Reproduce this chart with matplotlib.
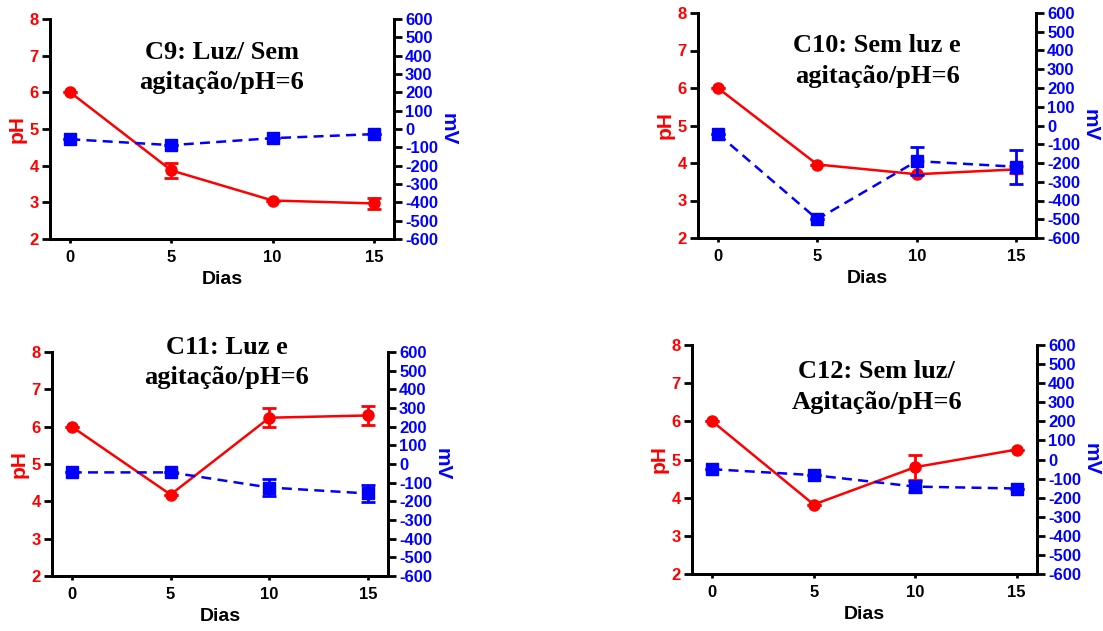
import numpy as np
import matplotlib
matplotlib.use('Agg')
import matplotlib.pyplot as plt

plt.rcParams['axes.unicode_minus'] = False

# dados
dias = [0, 5, 10, 15]

titulos = ['C9: Luz/ Sem\nagitação/pH=6',
           'C10: Sem luz e\nagitação/pH=6',
           'C11: Luz e\nagitação/pH=6',
           'C12: Sem luz/\nAgitação/pH=6']

ph_c9 = [6.0, 3.87, 3.05, 2.97]
ph_c9_err = [0.0, 0.2, 0.0, 0.16]
mv_c9 = [-56, -88, -50, -28]
mv_c9_err = [0, 0, 0, 0]

ph_c10 = [6.0, 3.96, 3.70, 3.83]
ph_c10_err = [0.0, 0.0, 0.0, 0.1]
mv_c10 = [-45, -500, -190, -220]
mv_c10_err = [0, 0, 75, 90]

ph_c11 = [6.0, 4.18, 6.24, 6.3]
ph_c11_err = [0.0, 0.0, 0.25, 0.25]
mv_c11 = [-45, -45, -126, -158]
mv_c11_err = [0, 0, 43, 47]

ph_c12 = [6.0, 3.82, 4.8, 5.26]
ph_c12_err = [0.0, 0.0, 0.33, 0.0]
mv_c12 = [-51, -82, -142, -152]
mv_c12_err = [0, 0, 30, 0]

ph_todos = [ph_c9, ph_c10, ph_c11, ph_c12]
ph_err_todos = [ph_c9_err, ph_c10_err, ph_c11_err, ph_c12_err]
mv_todos = [mv_c9, mv_c10, mv_c11, mv_c12]
mv_err_todos = [mv_c9_err, mv_c10_err, mv_c11_err, mv_c12_err]

# posicoes dos eixos (pixels da figura 1103x631)
W, H = 1103, 631
caixas = [(50, 394, 19, 239), (698, 1036, 13, 238),
          (52, 388, 352, 576), (692, 1037, 345, 574)]
titulo_pos = [(0.5, 0.78), (0.53, 0.787), (0.52, 0.953), (0.536, 0.817)]

vermelho = '#ff0000'
azul = '#0000ff'
fonte = 'Liberation Sans'

fig = plt.figure(figsize=(11.03, 6.31), dpi=100)

for i in range(4):
    l, r, t, b = caixas[i]
    ax = fig.add_axes([l / W, (H - b) / H, (r - l) / W, (b - t) / H])
    ax2 = ax.twinx()

    ax.errorbar(dias, ph_todos[i], yerr=ph_err_todos[i], color=vermelho,
                marker='o', markersize=8, lw=1.8, capsize=5, capthick=2,
                elinewidth=2)
    ax2.errorbar(dias, mv_todos[i], yerr=mv_err_todos[i], color=azul,
                 marker='s', markersize=8, lw=1.8, ls=(0, (4, 2.5)),
                 capsize=5, capthick=2, elinewidth=2)

    ax.set_xlim(-1, 16)
    ax.set_ylim(2, 8)
    ax2.set_ylim(-600, 600)
    ax.set_xticks([0, 5, 10, 15])
    ax.set_yticks(np.arange(2, 9, 1))
    ax2.set_yticks(np.arange(-600, 601, 100))

    for a in (ax, ax2):
        a.spines['top'].set_visible(False)
        for s in ('left', 'right', 'bottom'):
            a.spines[s].set_linewidth(2)

    ax.tick_params(axis='y', labelcolor=vermelho, color='black', width=2,
                   length=6, labelsize=12, pad=2)
    ax.tick_params(axis='x', width=2, length=3, labelsize=12, pad=5)
    ax2.tick_params(axis='y', labelcolor=azul, color='black', width=2,
                    length=6, labelsize=12, pad=2)

    for lab in ax.get_xticklabels() + ax.get_yticklabels() + ax2.get_yticklabels():
        lab.set_fontfamily(fonte)
        lab.set_fontweight('bold')

    ax.set_xlabel('Dias', fontsize=14, fontweight='bold', family=fonte,
                  labelpad=4)
    ax.set_ylabel('pH', fontsize=15, fontweight='bold', family=fonte,
                  color=vermelho, labelpad=2)
    ax2.set_ylabel('mV', fontsize=15, fontweight='bold', family=fonte,
                   color=azul, rotation=270, labelpad=14)

    tx, ty = titulo_pos[i]
    ax.text(tx, ty, titulos[i], transform=ax.transAxes, ha='center',
            va='center', fontsize=19, fontweight='bold',
            family='Liberation Serif', linespacing=1.4)

fig.savefig('out.png', dpi=100)
